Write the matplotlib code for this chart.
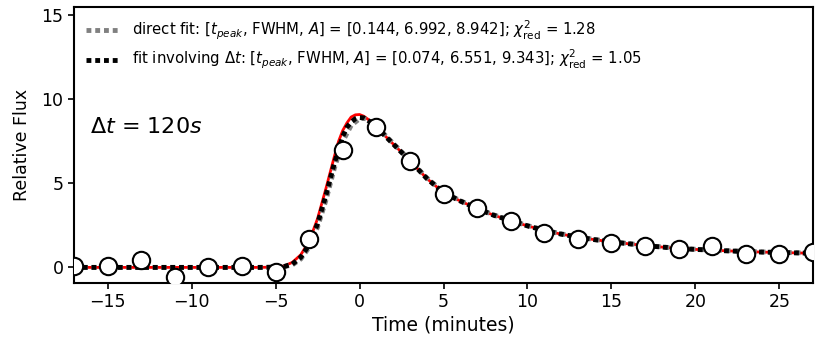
import matplotlib
matplotlib.use("Agg")
import matplotlib.pyplot as plt

# Observed data (time in minutes, relative flux)
obs_time = [-17, -15, -13, -11, -9, -7, -5, -3, -1, 1, 3, 5, 7, 9, 11, 13, 15,
            17, 19, 21, 23, 25, 27]
obs_flux = [0.08, 0.10, 0.45, -0.55, 0.0, 0.08, -0.27, 1.72, 6.96, 8.37, 6.33,
            4.35, 3.51, 2.76, 2.06, 1.67, 1.47, 1.27, 1.07, 1.25, 0.77, 0.80, 0.93]

# Curves
true_time = [-17, -6, -5.0, -4.5, -4.0, -3.5, -3.0, -2.5, -2.0, -1.5, -1.25, -1.0,
             -0.75, -0.5, -0.25, 0.0, 0.25, 0.5, 0.75, 1.0, 1.5, 2, 3, 4, 5, 6, 7,
             8, 9, 10, 11, 12, 13, 14, 15, 16, 17, 18, 19, 20, 22, 24, 27]
true_flux = [0.0, 0.0, 0.02, 0.08, 0.3, 0.75, 1.55, 2.9, 4.7, 6.6, 7.5, 8.15,
             8.6, 8.95, 9.08, 9.1, 9.0, 8.82, 8.6, 8.35, 7.85, 7.35, 6.35, 5.3,
             4.45, 3.95, 3.5, 3.1, 2.78, 2.47, 2.2, 1.98, 1.8, 1.65, 1.52, 1.41,
             1.3, 1.21, 1.13, 1.07, 0.98, 0.91, 0.84]

dt_time = [-17, -6, -5.0, -4.5, -4.0, -3.5, -3.0, -2.5, -2.0, -1.5, -1.0, -0.75,
           -0.5, -0.25, 0.0, 0.25, 0.5, 0.75, 1.0, 1.5, 2, 3, 4, 5, 6, 7, 8, 9,
           10, 11, 12, 13, 14, 15, 16, 17, 18, 19, 20, 22, 24, 27]
dt_flux = [0.0, 0.0, 0.01, 0.05, 0.2, 0.6, 1.35, 2.6, 4.3, 6.2, 7.8, 8.35, 8.65,
           8.85, 8.92, 8.9, 8.75, 8.58, 8.35, 7.85, 7.35, 6.35, 5.3, 4.45, 3.95,
           3.5, 3.1, 2.78, 2.47, 2.2, 1.98, 1.8, 1.65, 1.52, 1.41, 1.3, 1.21,
           1.13, 1.07, 0.98, 0.91, 0.84]

direct_time = [-17, -6, -5.0, -4.5, -4.0, -3.5, -3.0, -2.5, -2.0, -1.5, -1.0,
               -0.5, 0.0, 0.25, 0.5, 0.75, 1.0, 1.5, 2, 3, 4, 5, 6, 7, 8, 9, 10,
               11, 12, 13, 14, 15, 16, 17, 18, 19, 20, 22, 24, 27]
direct_flux = [0.0, 0.0, 0.01, 0.04, 0.15, 0.5, 1.2, 2.4, 4.0, 5.9, 7.5, 8.45,
               8.85, 8.88, 8.8, 8.62, 8.4, 7.9, 7.38, 6.38, 5.33, 4.48, 3.97,
               3.52, 3.12, 2.8, 2.49, 2.22, 2.0, 1.82, 1.66, 1.53, 1.42, 1.31,
               1.22, 1.14, 1.08, 0.99, 0.92, 0.85]

label_direct = (r"direct fit: [$t_{peak}$, FWHM, $A$] = [0.144, 6.992, 8.942]; "
                r"$\chi^2_{\rm red}$ = 1.28")
label_dt = (r"fit involving $\Delta t$: [$t_{peak}$, FWHM, $A$] = "
            r"[0.074, 6.551, 9.343]; $\chi^2_{\rm red}$ = 1.05")

fig = plt.figure(figsize=(8.3, 3.46), dpi=100)
ax = fig.add_axes([0.0892, 0.182, 0.8903, 0.7978])

dot = (0, (1, 0.8))
ax.plot(true_time, true_flux, color="red", lw=2, zorder=2)
ax.plot(direct_time, direct_flux, color="gray", lw=3.5, ls=dot, zorder=3,
        label=label_direct)
ax.plot(dt_time, dt_flux, color="black", lw=3.5, ls=dot, zorder=4,
        label=label_dt)
ax.plot(obs_time, obs_flux, "o", ms=12.5, mfc="white", mec="black", mew=1.5,
        zorder=5)

ax.text(-16.05, 8.0, r"$\Delta t$ = 120$s$", fontsize=16, va="baseline")

ax.set_xlim(-17, 27)
ax.set_ylim(-0.93, 15.5)
ax.set_xticks([-15, -10, -5, 0, 5, 10, 15, 20, 25])
ax.set_yticks([0, 5, 10, 15])
ax.tick_params(labelsize=12.5, width=1.2, length=4)
ax.set_xlabel("Time (minutes)", fontsize=13.5, labelpad=3)
ax.set_ylabel("Relative Flux", fontsize=12.5, labelpad=8)
for s in ax.spines.values():
    s.set_linewidth(1.5)

ax.legend(loc="upper left", frameon=False, fontsize=10.7, handlelength=2.2,
          handletextpad=0.9, borderaxespad=0.4, labelspacing=0.4)

fig.savefig("out.png", dpi=100)
